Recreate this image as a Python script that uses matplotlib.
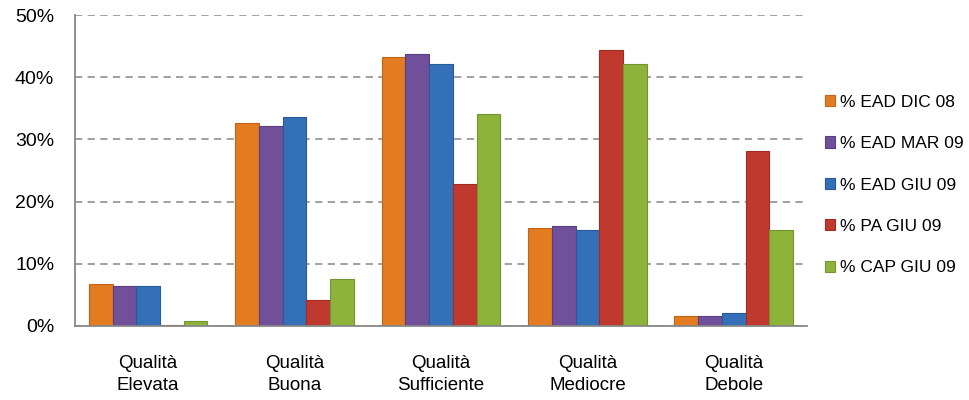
import numpy as np
import matplotlib
matplotlib.use('Agg')
import matplotlib.pyplot as plt
from matplotlib.ticker import PercentFormatter

plt.rcParams['font.family'] = ['Liberation Sans', 'DejaVu Sans']

# categorie e serie (valori in %)
categorie = ['Qualità\nElevata', 'Qualità\nBuona', 'Qualità\nSufficiente',
             'Qualità\nMediocre', 'Qualità\nDebole']
serie = ['% EAD DIC 08', '% EAD MAR 09', '% EAD GIU 09', '% PA GIU 09', '% CAP GIU 09']
ead_dic08 = [6.8, 32.6, 43.2, 15.7, 1.6]
ead_mar09 = [6.4, 32.1, 43.7, 16.1, 1.6]
ead_giu09 = [6.4, 33.6, 42.1, 15.4, 2.1]
pa_giu09 = [0.2, 4.2, 22.8, 44.4, 28.1]
cap_giu09 = [0.8, 7.5, 34.1, 42.1, 15.4]
valori = [ead_dic08, ead_mar09, ead_giu09, pa_giu09, cap_giu09]
colori = ['#E37B20', '#70509A', '#3470B8', '#C0392F', '#8DB33A']
bordi = ['#C0641A', '#5A3E80', '#285A98', '#9E2C25', '#739430']

fig = plt.figure(figsize=(9.69, 4.0), dpi=100)
ax = fig.add_axes([0.0774, 0.185, 0.7554, 0.7775])

x = np.arange(len(categorie))
w = 0.162
for i, (nome, v) in enumerate(zip(serie, valori)):
    ax.bar(x + (i - 2) * w, v, width=w, color=colori[i], edgecolor=bordi[i],
           linewidth=0.8, label=nome, zorder=3)

ax.set_xlim(-0.5, len(categorie) - 0.5)
ax.set_ylim(0, 50)
ax.set_yticks(range(0, 51, 10))
ax.yaxis.set_major_formatter(PercentFormatter(decimals=0))
ax.set_xticks(x)
ax.set_xticklabels(categorie, fontsize=13.5, linespacing=1.4)
ax.tick_params(axis='y', labelsize=14, length=0, pad=15)
ax.tick_params(axis='x', length=0, pad=21)
ax.grid(axis='y', color='#999999', linestyle=(0, (4, 3)), linewidth=1.3, zorder=0)

for s in ['top', 'right']:
    ax.spines[s].set_visible(False)
for s in ['left', 'bottom']:
    ax.spines[s].set_color('#888888')
    ax.spines[s].set_linewidth(1.3)
    ax.spines[s].set_zorder(4)

fig.legend(loc='center left', bbox_to_anchor=(0.851, 0.5375), frameon=False,
           fontsize=12.5, labelspacing=1.52, handlelength=0.6, handleheight=0.6,
           handletextpad=0.3, borderpad=0, borderaxespad=0)

fig.savefig('out.png', dpi=100)
